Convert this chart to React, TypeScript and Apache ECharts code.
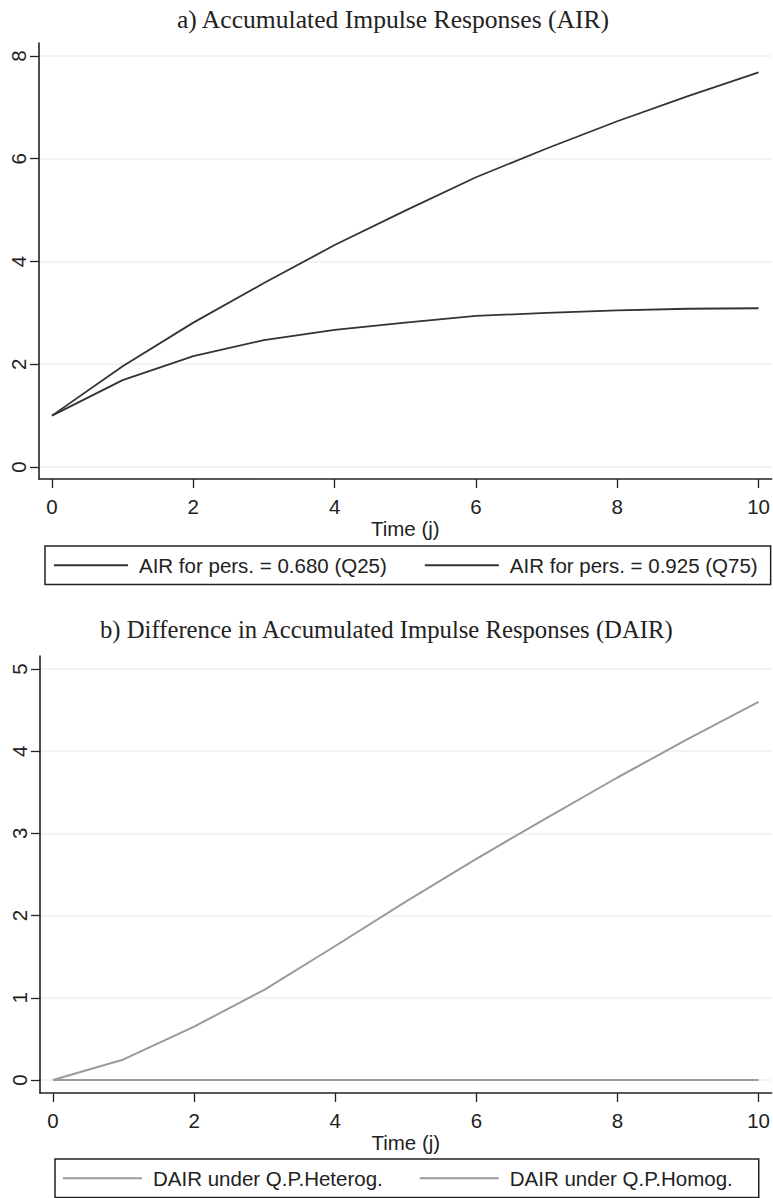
import React, { useEffect, useRef } from "react";
import * as echarts from "echarts";

// ---- data ----
const timeSteps = [0, 1, 2, 3, 4, 5, 6, 7, 8, 9, 10];
const airQ25 = [1, 1.69, 2.16, 2.47, 2.67, 2.81, 2.94, 3.0, 3.05, 3.08, 3.09];
const airQ75 = [1, 1.96, 2.81, 3.58, 4.32, 4.99, 5.64, 6.2, 6.73, 7.22, 7.68];
const dairHeterog = [0, 0.25, 0.65, 1.1, 1.63, 2.17, 2.69, 3.19, 3.68, 4.15, 4.6];
const dairHomog = [0, 0, 0, 0, 0, 0, 0, 0, 0, 0, 0];
const xTicks = [0, 2, 4, 6, 8, 10];
const yTicksA = [0, 2, 4, 6, 8];
const yTicksB = [0, 1, 2, 3, 4, 5];
const titleA = "a) Accumulated Impulse Responses (AIR)";
const titleB = "b) Difference in Accumulated Impulse Responses (DAIR)";
const legendA = ["AIR for pers. = 0.680 (Q25)", "AIR for pers. = 0.925 (Q75)"];
const legendB = ["DAIR under Q.P.Heterog.", "DAIR under Q.P.Homog."];
const xName = "Time (j)";

const SANS = "'Liberation Sans', Arial, Helvetica, sans-serif";
const SERIF = "'Liberation Serif', 'Times New Roman', serif";
const TEXT = "#222222";
const AXIS = "#222222";
const GRIDC = "#eef1f1";
const DARK = "#333333";
const GRAY = "#9a9a9a";

const pairs = (ys: number[]) => timeSteps.map((t, i) => [t, ys[i]]);

function makeX(gridIndex: number) {
  return {
    type: "value",
    gridIndex,
    min: -0.184,
    max: 10.184,
    name: xName,
    nameLocation: "middle",
    nameGap: 34,
    nameTextStyle: { fontFamily: SANS, fontSize: 20.5, color: TEXT },
    axisLine: { show: true, onZero: false, lineStyle: { color: AXIS, width: 1.6 } },
    axisTick: { show: true, length: 9, customValues: xTicks, lineStyle: { color: AXIS, width: 1.3 } },
    axisLabel: { customValues: xTicks, margin: 17, fontFamily: SANS, fontSize: 20.5, color: TEXT },
    splitLine: { show: false },
  };
}

function makeY(gridIndex: number, min: number, max: number, ticks: number[]) {
  return {
    type: "value",
    gridIndex,
    min,
    max,
    axisLine: { show: true, onZero: false, lineStyle: { color: AXIS, width: 1.6 } },
    axisTick: { show: true, length: 9, customValues: ticks, lineStyle: { color: AXIS, width: 1.3 } },
    axisLabel: { customValues: ticks, rotate: 90, margin: 10, fontFamily: SANS, fontSize: 20.5, color: TEXT },
    splitLine: { show: true, lineStyle: { color: GRIDC, width: 1.5 } },
  };
}

function makeLegend(data: string[], left: number, top: number, itemWidth: number, itemGap: number, padding: number[]) {
  return {
    data,
    left,
    top,
    orient: "horizontal",
    icon: "rect",
    itemWidth,
    itemHeight: 2,
    itemGap,
    padding,
    borderColor: "#222",
    borderWidth: 1.5,
    selectedMode: false,
    textStyle: { fontFamily: SANS, fontSize: 20.5, color: TEXT, padding: [0, 0, 0, 6] },
  };
}

export default function App() {
  const ref = useRef<HTMLDivElement>(null);
  useEffect(() => {
    if (!ref.current) return;
    const chart = echarts.init(ref.current, undefined, { renderer: "svg" });
    chart.setOption({
      animation: false,
      backgroundColor: "#ffffff",
      title: [
        { text: titleA, left: 177, top: 6, padding: 0, textStyle: { fontFamily: SERIF, fontSize: 25.6, fontWeight: "normal", color: TEXT } },
        { text: titleB, left: 100, top: 617, padding: 0, textStyle: { fontFamily: SERIF, fontSize: 24.7, fontWeight: "normal", color: TEXT } },
      ],
      legend: [
        makeLegend(legendA, 45, 546, 74, 38, [8.75, 13, 8.75, 9]),
        makeLegend(legendB, 55, 1159, 79, 37, [8.75, 26, 8.75, 8]),
      ],
      grid: [
        { left: 39, top: 43, width: 733, height: 436 },
        { left: 40, top: 656, width: 732, height: 437 },
      ],
      xAxis: [makeX(0), makeX(1)],
      yAxis: [makeY(0, -0.2336, 8.253, yTicksA), makeY(1, -0.158, 5.158, yTicksB)],
      series: [
        { name: legendA[0], type: "line", xAxisIndex: 0, yAxisIndex: 0, data: pairs(airQ25), symbol: "none", color: DARK, lineStyle: { color: DARK, width: 1.8 } },
        { name: legendA[1], type: "line", xAxisIndex: 0, yAxisIndex: 0, data: pairs(airQ75), symbol: "none", color: DARK, lineStyle: { color: DARK, width: 1.8 } },
        { name: legendB[0], type: "line", xAxisIndex: 1, yAxisIndex: 1, data: pairs(dairHeterog), symbol: "none", color: GRAY, lineStyle: { color: GRAY, width: 2 } },
        { name: legendB[1], type: "line", xAxisIndex: 1, yAxisIndex: 1, data: pairs(dairHomog), symbol: "none", color: GRAY, lineStyle: { color: GRAY, width: 2 } },
      ],
    });
    return () => chart.dispose();
  }, []);
  return <div ref={ref} style={{ position: "absolute", left: 0, top: 0, width: 773, height: 1198 }} />;
}
